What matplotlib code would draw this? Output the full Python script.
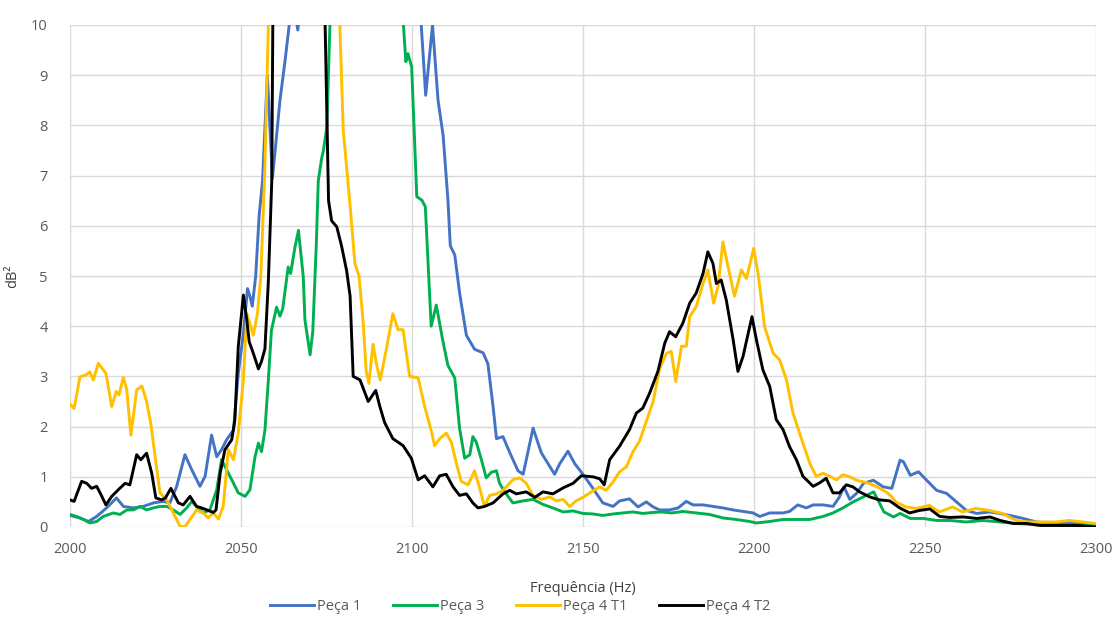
import numpy as np
import matplotlib
matplotlib.use("Agg")
import matplotlib.pyplot as plt

plt.rcParams["font.family"] = ["Open Sans", "DejaVu Sans"]

# Peça 1
f_p1 = [2000, 2002.9, 2005.4, 2007.8, 2010.7, 2013.6, 2015.6, 2018.5, 2021.4, 2024.4,
        2027.3, 2029.2, 2031.2, 2033.6, 2035.6, 2038.0, 2039.5, 2041.4, 2042.9, 2044.3,
        2045.8, 2047.8, 2049.2, 2050.7, 2051.9, 2052.6, 2053.3, 2054.3, 2055.3, 2056.3,
        2057.7, 2059.2, 2061.4, 2062.9, 2064.1, 2065.3, 2066.6, 2067.8, 2080, 2095,
        2101.5, 2102.7, 2104.0, 2106.0, 2107.6, 2109.1, 2110.5, 2111.2, 2112.5, 2113.9,
        2115.9, 2118.3, 2120.8, 2122.2, 2123.7, 2124.7, 2126.6, 2128.6, 2131.0, 2132.5,
        2135.4, 2137.8, 2139.8, 2141.7, 2143.2, 2145.6, 2147.6, 2150.0, 2152.9, 2155.8,
        2158.8, 2160.7, 2163.6, 2166.1, 2168.5, 2170.5, 2172.4, 2175.3, 2177.8, 2180.2,
        2182.2, 2185.1, 2188.0, 2190.9, 2193.9, 2196.8, 2199.7, 2201.7, 2204.6, 2208.5,
        2210.4, 2212.8, 2215.3, 2217.3, 2220.2, 2223.1, 2225.0, 2226.3, 2228.0, 2230,
        2232, 2234.9, 2237.8, 2240.3, 2242.7, 2243.7, 2245.7, 2248.1, 2250.5, 2253.4,
        2256.3, 2259.2, 2262.1, 2265.1, 2269.0, 2271.9, 2274.8, 2278.7, 2282.6, 2286.5,
        2292.4, 2300]
v_p1 = [0.23, 0.18, 0.11, 0.21, 0.38, 0.58, 0.41, 0.38, 0.41, 0.48,
        0.51, 0.48, 0.81, 1.44, 1.14, 0.81, 1.01, 1.83, 1.40, 1.54,
        1.74, 1.93, 3.06, 3.85, 4.75, 4.6, 4.4, 5.0, 6.2, 6.9,
        9.0, 6.95, 8.5, 9.3, 10.0, 10.5, 9.9, 10.6, 19, 17,
        11, 10, 8.6, 10, 8.51, 7.80, 6.52, 5.60, 5.42, 4.67,
        3.82, 3.54, 3.47, 3.25, 2.40, 1.76, 1.80, 1.48, 1.12, 1.05,
        1.97, 1.48, 1.26, 1.05, 1.26, 1.51, 1.26, 1.05, 0.77, 0.48,
        0.41, 0.52, 0.56, 0.40, 0.50, 0.40, 0.34, 0.34, 0.38, 0.51,
        0.44, 0.44, 0.41, 0.38, 0.34, 0.31, 0.28, 0.21, 0.28, 0.28,
        0.31, 0.44, 0.38, 0.44, 0.44, 0.41, 0.60, 0.80, 0.55, 0.67,
        0.87, 0.93, 0.80, 0.77, 1.33, 1.30, 1.03, 1.10, 0.93, 0.73,
        0.67, 0.50, 0.33, 0.27, 0.30, 0.27, 0.23, 0.17, 0.10, 0.08,
        0.08, 0.05]

# Peça 3
f_p3 = [2000, 2001.9, 2003.9, 2005.8, 2007.8, 2009.7, 2012.7, 2014.6, 2016.6, 2018.5,
        2020.5, 2022.4, 2024.4, 2026.3, 2028.3, 2030.2, 2032.2, 2034.1, 2035.6, 2037.0,
        2039.0, 2040.9, 2042.9, 2044.3, 2045.8, 2047.3, 2049.2, 2051.2, 2052.6, 2054.1,
        2055.1, 2056.0, 2057.0, 2058.0, 2058.9, 2060.4, 2061.4, 2062.2, 2063.8, 2064.5,
        2065.8, 2066.8, 2068.2, 2068.7, 2070.2, 2071.0, 2072.0, 2072.6, 2073.6, 2074.1,
        2075.1, 2076.0, 2080, 2090, 2097.5, 2098.2, 2098.8, 2099.9, 2101.4, 2102.9,
        2103.9, 2105.6, 2107.1, 2109.1, 2110.5, 2112.5, 2113.9, 2115.4, 2116.9, 2117.8,
        2118.8, 2120.3, 2121.7, 2123.2, 2124.7, 2125.6, 2127.1, 2129.5, 2132.5, 2135.4,
        2138.3, 2141.2, 2144.2, 2147.1, 2150.0, 2152.9, 2155.8, 2158.8, 2161.7, 2164.6,
        2167.5, 2170.5, 2173, 2176, 2179.2, 2183.1, 2187.0, 2190.9, 2194.8, 2198.7,
        2200.7, 2204.6, 2208.5, 2212.4, 2216.3, 2220.2, 2223.1, 2226.0, 2229, 2232,
        2235, 2236.5, 2238, 2240.8, 2242.7, 2245.7, 2249.5, 2253.4, 2257.3, 2262,
        2267, 2272, 2276.6, 2282.5, 2288.3, 2300]
v_p3 = [0.25, 0.21, 0.15, 0.08, 0.11, 0.21, 0.28, 0.25, 0.34, 0.34,
        0.41, 0.34, 0.38, 0.41, 0.41, 0.34, 0.25, 0.38, 0.51, 0.41,
        0.28, 0.34, 0.74, 1.34, 1.14, 0.94, 0.68, 0.61, 0.74, 1.40,
        1.67, 1.50, 1.93, 2.93, 3.92, 4.38, 4.20, 4.35, 5.18, 5.05,
        5.58, 5.91, 4.99, 4.12, 3.43, 3.90, 5.60, 6.90, 7.35, 7.50,
        7.97, 10.0, 17, 19, 10.0, 9.27, 9.43, 9.17, 6.58, 6.51,
        6.38, 4.00, 4.42, 3.68, 3.22, 2.97, 1.97, 1.37, 1.44, 1.80,
        1.69, 1.34, 0.98, 1.09, 1.12, 0.87, 0.70, 0.48, 0.52, 0.55,
        0.45, 0.38, 0.30, 0.32, 0.27, 0.26, 0.23, 0.26, 0.28, 0.30,
        0.27, 0.29, 0.30, 0.28, 0.31, 0.28, 0.25, 0.18, 0.15, 0.11,
        0.08, 0.11, 0.15, 0.15, 0.15, 0.21, 0.28, 0.38, 0.50, 0.60,
        0.70, 0.50, 0.30, 0.20, 0.27, 0.17, 0.17, 0.13, 0.13, 0.10,
        0.13, 0.10, 0.07, 0.05, 0.05, 0.03]

# Peça 4 T1
f_t1 = [2000, 2001.2, 2002.9, 2004.7, 2005.8, 2006.8, 2008.3, 2010.5, 2012.2, 2013.5,
        2014.3, 2015.6, 2016.6, 2017.8, 2019.5, 2021.0, 2022.4, 2023.6, 2024.9, 2026.3,
        2028.3, 2030.2, 2032.2, 2033.6, 2035.1, 2037.0, 2039.0, 2040.4, 2041.9, 2043.4,
        2044.8, 2046.3, 2047.8, 2049.2, 2050.7, 2051.7, 2053.6, 2054.8, 2055.8, 2057.0,
        2058.0, 2066, 2072, 2078.9, 2079.9, 2081.9, 2083.3, 2084.5, 2085.7, 2086.6,
        2087.4, 2088.6, 2089.6, 2090.7, 2092.5, 2094.4, 2095.9, 2097.4, 2099.3, 2101.8,
        2103.7, 2105.7, 2106.6, 2108.1, 2110.0, 2111.5, 2113.0, 2114.4, 2116.4, 2118.3,
        2119.8, 2121.2, 2122.7, 2124.7, 2126.6, 2129.5, 2131.5, 2133.4, 2135.4, 2137.8,
        2140.3, 2142.2, 2144.2, 2146.1, 2148.0, 2150.0, 2152.9, 2154.9, 2156.8, 2158.8,
        2160.7, 2162.7, 2164.6, 2166.6, 2168.5, 2170.5, 2172.4, 2174.4, 2175.8, 2177.1,
        2178.8, 2180.2, 2181.2, 2183.1, 2185.1, 2186.5, 2188.2, 2189.5, 2190.9, 2192.4,
        2194.3, 2196.3, 2197.8, 2199.9, 2201.2, 2203.1, 2205.6, 2207.5, 2209.5, 2211.4,
        2214.3, 2216.3, 2218.2, 2220.2, 2222.1, 2224.1, 2226.0, 2228.0, 2230.0, 2232.0,
        2234, 2236, 2238.6, 2240, 2241.5, 2244.4, 2247.4, 2251.3, 2254.2, 2258.1,
        2261.0, 2264.9, 2268.8, 2272.7, 2276.6, 2280.5, 2284.4, 2288.3, 2292.2, 2296.1,
        2300]
v_t1 = [2.45, 2.36, 2.99, 3.03, 3.09, 2.93, 3.26, 3.06, 2.40, 2.70,
        2.63, 2.98, 2.73, 1.83, 2.73, 2.81, 2.50, 2.07, 1.40, 0.68,
        0.54, 0.28, 0.01, 0.01, 0.15, 0.34, 0.28, 0.18, 0.28, 0.16,
        0.41, 1.54, 1.34, 1.87, 2.93, 4.25, 3.82, 4.25, 5.0, 7.2,
        10.0, 18, 19, 10.0, 7.9, 6.4, 5.25, 5.0, 4.10, 3.11,
        2.86, 3.64, 3.25, 2.93, 3.54, 4.25, 3.93, 3.93, 3.00, 2.97,
        2.40, 1.90, 1.62, 1.76, 1.87, 1.69, 1.26, 0.91, 0.84, 1.12,
        0.77, 0.41, 0.63, 0.66, 0.73, 0.94, 0.98, 0.87, 0.63, 0.55,
        0.60, 0.52, 0.55, 0.41, 0.52, 0.59, 0.72, 0.80, 0.73, 0.90,
        1.10, 1.20, 1.50, 1.72, 2.10, 2.50, 3.15, 3.46, 3.50, 2.90,
        3.60, 3.60, 4.19, 4.39, 4.85, 5.12, 4.46, 4.79, 5.68, 5.19,
        4.60, 5.12, 4.95, 5.55, 5.05, 3.99, 3.46, 3.33, 2.93, 2.27,
        1.67, 1.27, 1.01, 1.07, 1.01, 0.94, 1.04, 1.00, 0.93, 0.90,
        0.86, 0.80, 0.70, 0.62, 0.50, 0.40, 0.37, 0.43, 0.30, 0.40,
        0.30, 0.37, 0.33, 0.27, 0.13, 0.10, 0.10, 0.10, 0.13, 0.10,
        0.07]

# Peça 4 T2
f_t2 = [2000, 2001.2, 2003.4, 2004.9, 2006.3, 2007.8, 2008.8, 2010.5, 2012.2, 2014.1,
        2016.1, 2017.5, 2019.5, 2020.7, 2022.4, 2023.9, 2025.1, 2026.8, 2027.9, 2029.5,
        2031.7, 2033.1, 2035.1, 2037.0, 2038.5, 2040.0, 2041.9, 2042.7, 2043.9, 2045.3,
        2047.3, 2048.2, 2049.2, 2050.7, 2051.7, 2052.4, 2053.6, 2055.1, 2056.0, 2057.0,
        2058.0, 2059.0, 2059.3, 2060.5, 2066, 2073, 2074.6, 2075.6, 2076.5, 2078,
        2079.4, 2080.9, 2081.9, 2082.8, 2084.8, 2087.2, 2089.4, 2090.6, 2092.0, 2094.4,
        2097.4, 2099.8, 2101.8, 2103.7, 2106.1, 2108.1, 2110.0, 2112.0, 2113.9, 2115.9,
        2117.8, 2119.3, 2121.2, 2123.7, 2126.6, 2128.6, 2130.5, 2133.4, 2135.9, 2138.3,
        2141.2, 2144.2, 2147.1, 2149.5, 2152.9, 2154.9, 2156.2, 2157.8, 2160.7, 2163.6,
        2165.6, 2167.5, 2169.5, 2171.9, 2173.9, 2175.3, 2177.1, 2179.2, 2181.2, 2183.1,
        2185.1, 2186.5, 2188.0, 2189.0, 2190.4, 2191.9, 2193.9, 2195.3, 2196.8, 2199.4,
        2200.7, 2202.6, 2204.6, 2206.5, 2208.5, 2210.4, 2212.4, 2214.3, 2217.3, 2219.2,
        2221.1, 2223.1, 2225.0, 2227.0, 2228.9, 2230.9, 2233.8, 2236.7, 2239.7, 2242.6,
        2245.5, 2248.4, 2251.4, 2254.3, 2257.2, 2261.2, 2265.1, 2269.0, 2272.0, 2275.8,
        2279.7, 2283.6, 2288.5, 2294.4, 2300]
v_t2 = [0.54, 0.51, 0.91, 0.87, 0.77, 0.81, 0.68, 0.44, 0.61, 0.74,
        0.87, 0.84, 1.44, 1.34, 1.47, 1.07, 0.58, 0.54, 0.58, 0.77,
        0.48, 0.44, 0.61, 0.41, 0.38, 0.34, 0.29, 0.34, 1.07, 1.54,
        1.74, 2.13, 3.59, 4.62, 4.12, 3.69, 3.46, 3.15, 3.30, 3.55,
        4.90, 6.90, 10.0, 16, 22, 16, 10.0, 6.5, 6.1, 5.98,
        5.60, 5.10, 4.60, 3.00, 2.93, 2.50, 2.72, 2.40, 2.08, 1.76,
        1.62, 1.37, 0.94, 1.02, 0.80, 1.02, 1.05, 0.80, 0.63, 0.66,
        0.48, 0.38, 0.41, 0.48, 0.66, 0.73, 0.66, 0.70, 0.59, 0.70,
        0.66, 0.78, 0.87, 1.02, 1.00, 0.96, 0.84, 1.34, 1.61, 1.94,
        2.27, 2.37, 2.67, 3.10, 3.66, 3.89, 3.79, 4.06, 4.46, 4.66,
        5.05, 5.48, 5.25, 4.85, 4.92, 4.52, 3.73, 3.10, 3.40, 4.19,
        3.73, 3.13, 2.80, 2.14, 1.94, 1.60, 1.34, 1.01, 0.81, 0.88,
        0.97, 0.68, 0.68, 0.84, 0.80, 0.70, 0.60, 0.54, 0.52, 0.38,
        0.28, 0.33, 0.36, 0.21, 0.19, 0.20, 0.17, 0.20, 0.13, 0.07,
        0.07, 0.03, 0.03, 0.03, 0.00]

series = [
    ("Peça 1", f_p1, v_p1, "#4472C4"),
    ("Peça 3", f_p3, v_p3, "#00B050"),
    ("Peça 4 T1", f_t1, v_t1, "#FFC000"),
    ("Peça 4 T2", f_t2, v_t2, "#000000"),
]

fig = plt.figure(figsize=(11.19, 6.19), dpi=100)
ax = fig.add_axes([70 / 1119, 1 - 527 / 619, 1026 / 1119, 502 / 619])

for name, f, v, c in series:
    ax.plot(f, v, color=c, lw=2.1, label=name, solid_joinstyle="round")

ax.set_xlim(2000, 2300)
ax.set_ylim(0, 10)
ax.set_xticks(np.arange(2000, 2301, 50))
ax.set_yticks(np.arange(0, 11, 1))
ax.grid(True, color="#D9D9D9", lw=1.0)
ax.set_axisbelow(True)
for s in ax.spines.values():
    s.set_visible(False)
ax.tick_params(axis="x", length=0, labelsize=10.5, labelcolor="#595959", pad=11)
ax.tick_params(axis="y", length=0, labelsize=10.5, labelcolor="#595959", pad=16)

ax.set_xlabel("Frequência (Hz)", fontsize=10.5, color="#404040", labelpad=17)
ax.set_ylabel("dB²", fontsize=10.5, color="#404040", labelpad=8)

fig.legend(loc="center", bbox_to_anchor=(520 / 1119, 1 - 607 / 619), ncol=4,
           frameon=False, fontsize=10.5, handlelength=3.0, columnspacing=2.2,
           handletextpad=0.2, labelcolor="#595959")

fig.savefig("out.png", dpi=100)
